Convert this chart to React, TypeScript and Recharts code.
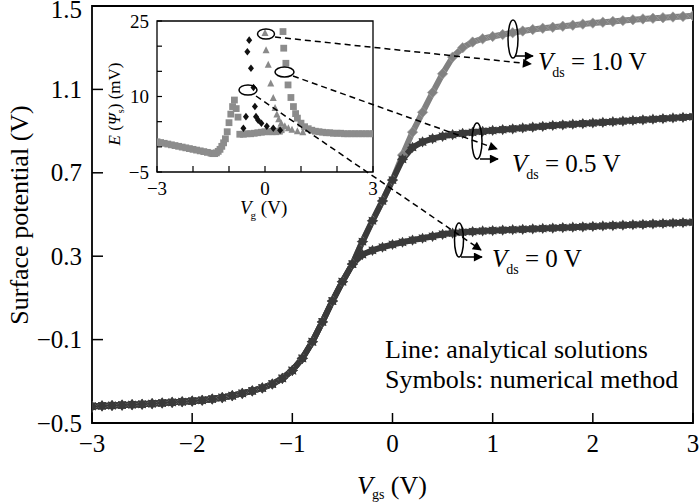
import React from 'react';
import { ComposedChart, ScatterChart, Line, Scatter, XAxis, YAxis, ReferenceArea } from 'recharts';

const FONT = '"Liberation Serif", "Times New Roman", serif';

// Main plot: gate voltage grid (V)
const vgs = [
  -3.0, -2.9, -2.8, -2.7, -2.6, -2.5, -2.4, -2.3, -2.2, -2.1,
  -2.0, -1.9, -1.8, -1.7, -1.6, -1.5, -1.4, -1.3, -1.2, -1.1,
  -1.0, -0.9, -0.8, -0.7, -0.6, -0.5, -0.4, -0.3, -0.2, -0.1,
  0.0, 0.1, 0.2, 0.3, 0.4, 0.5, 0.6, 0.7, 0.8, 0.9,
  1.0, 1.1, 1.2, 1.3, 1.4, 1.5, 1.6, 1.7, 1.8, 1.9,
  2.0, 2.1, 2.2, 2.3, 2.4, 2.5, 2.6, 2.7, 2.8, 2.9, 3.0,
];

// shared part of the three curves (-3.0 .. -0.4)
const psiCommon = [
  -0.420, -0.418, -0.416, -0.414, -0.412, -0.410, -0.407, -0.404, -0.401, -0.398,
  -0.395, -0.391, -0.385, -0.378, -0.369, -0.358, -0.346, -0.332, -0.313, -0.286,
  -0.248, -0.190, -0.110, -0.015, 0.085, 0.178, 0.262,
];

// -0.3 .. 3.0
const psiVds0 = [...psiCommon,
  0.308, 0.328, 0.343, 0.356, 0.367, 0.377, 0.386, 0.395, 0.405, 0.411,
  0.415, 0.418, 0.421, 0.423, 0.425, 0.427, 0.429, 0.431, 0.433, 0.435,
  0.437, 0.439, 0.441, 0.443, 0.445, 0.447, 0.449, 0.451, 0.453, 0.455,
  0.457, 0.459, 0.461, 0.463,
];
const psiVds05 = [...psiCommon,
  0.370, 0.470, 0.565, 0.665, 0.765, 0.822, 0.848, 0.864, 0.875, 0.883,
  0.889, 0.894, 0.899, 0.903, 0.907, 0.911, 0.915, 0.919, 0.923, 0.927,
  0.930, 0.933, 0.936, 0.939, 0.942, 0.945, 0.948, 0.951, 0.954, 0.957,
  0.960, 0.963, 0.966, 0.969,
];
const psiVds10 = [...psiCommon,
  0.370, 0.470, 0.565, 0.665, 0.785, 0.895, 0.990, 1.085, 1.175, 1.255,
  1.300, 1.327, 1.343, 1.354, 1.363, 1.372, 1.380, 1.387, 1.393, 1.398,
  1.403, 1.408, 1.413, 1.418, 1.422, 1.426, 1.430, 1.434, 1.438, 1.441,
  1.444, 1.447, 1.450, 1.453,
];

const mainXTicks = [-3, -2, -1, 0, 1, 2, 3];
const mainYTicks = [-0.5, -0.1, 0.3, 0.7, 1.1, 1.5];

// Inset: error E(psi_s) in mV
const sqVg = [
  -3.0, -2.9, -2.8, -2.7, -2.6, -2.5, -2.4, -2.3, -2.2, -2.1, -2.0, -1.9, -1.8, -1.7, -1.6, -1.5,
  -1.45, -1.4, -1.35, -1.3, -1.25, -1.2, -1.15, -1.1, -1.05, -1.0, -0.95, -0.9, -0.85, -0.8, -0.75,
  -0.7, -0.6, -0.5, -0.4, -0.3, -0.2, -0.1, 0.0, 0.1, 0.2, 0.3, 0.4, 0.45,
  0.5, 0.52, 0.58, 0.64, 0.72, 0.79, 0.85, 0.9,
  1.0, 1.1, 1.2, 1.3, 1.4, 1.5, 1.6, 1.7, 1.8, 1.9, 2.0, 2.1, 2.2, 2.3, 2.4, 2.5, 2.6, 2.7, 2.8, 2.9, 3.0,
];
const sqErr = [
  1.0, 0.85, 0.7, 0.55, 0.4, 0.25, 0.1, -0.05, -0.2, -0.35, -0.5, -0.65, -0.8, -0.95, -1.1, -1.25,
  -1.35, -1.35, -1.2, -0.9, -0.5, 0.1, 0.8, 1.6, 3.0, 4.8, 6.5, 8.0, 9.3, 7.6, 5.9,
  2.5, 2.5, 2.6, 2.6, 2.7, 2.8, 2.9, 3.0, 3.0, 3.0, 3.0, 3.1, 3.4,
  22.9, 19.6, 16.6, 12.3, 9.8, 8.0, 6.6, 5.7,
  4.7, 4.0, 3.6, 3.3, 3.1, 3.0, 2.9, 2.8, 2.8, 2.7, 2.7, 2.7, 2.6, 2.6, 2.6, 2.6, 2.6, 2.6, 2.6, 2.6, 2.6,
];
const triVg = [0.0, 0.03, 0.09, 0.16, 0.23, 0.28, 0.33, 0.38, 0.45, 0.55, 0.65, 0.75, 0.9, 1.05];
const triErr = [22.6, 19.2, 16.3, 12.6, 9.7, 7.7, 6.4, 5.5, 4.7, 4.1, 3.7, 3.4, 3.1, 2.9];
const diaVg = [-0.6, -0.53, -0.49, -0.44, -0.39, -0.32, -0.28, -0.25, -0.19, -0.1, 0.05, 0.23, 0.42];
const diaErr = [3.7, 6.0, 18.9, 21.2, 15.6, 11.8, 8.0, 6.0, 5.3, 4.7, 4.1, 3.7, 3.3];

const insetXTicks = [-3, -2, -1, 0, 1, 2, 3];
const insetYTicks = [-5, 0, 5, 10, 15, 20, 25];
const insetXLabels = [-3, 0, 3];
const insetYLabels = [-5, 10, 25];

const mainRows = vgs.map((x, i) => ({ x, v0: psiVds0[i], v05: psiVds05[i], v10: psiVds10[i] }));
const toPts = (xs: number[], es: number[]) => xs.map((x, i) => ({ x, e: es[i] }));

const DARK = '#3a3a3a';
const GREY = '#808080';

const minus = (s: string) => s.replace('-', '\u2212');

const starPts = (cx: number, cy: number) => {
  const pts: string[] = [];
  for (let k = 0; k < 16; k++) {
    const r = k % 2 === 0 ? 5.6 : 3.6;
    const a = (Math.PI * k) / 8;
    pts.push(`${cx + r * Math.cos(a)},${cy + r * Math.sin(a)}`);
  }
  return pts.join(' ');
};

const StarDot = (p: any) => {
  if (p.cx == null || p.cy == null) return <g key={p.index} />;
  return <polygon key={p.index} points={starPts(p.cx, p.cy)} fill={DARK} />;
};

const DiamondDot = (p: any) => {
  if (p.cx == null || p.cy == null) return <g key={p.index} />;
  const { cx, cy } = p;
  const r = 5.2;
  return (
    <polygon key={p.index} points={`${cx},${cy - r} ${cx + r},${cy} ${cx},${cy + r} ${cx - r},${cy}`}
      fill={GREY} stroke="#a0a0a0" strokeWidth={0.6} />
  );
};

const MainXTick = (p: any) => {
  const { x, y, payload } = p;
  return (
    <g>
      <line x1={x} x2={x} y1={y} y2={y - 10} stroke="#000" strokeWidth={1.5} />
      <text x={x} y={y + 29} textAnchor="middle" fontSize={25} fontFamily={FONT} fill="#000">
        {minus(String(payload.value))}
      </text>
    </g>
  );
};

const MainYTick = (p: any) => {
  const { x, y, payload } = p;
  // top label sits at the very edge of the page; keep it fully visible
  const dy = payload.value === 1.5 ? 11.5 : 8.5;
  return (
    <g>
      <line x1={x} x2={x + 11} y1={y} y2={y} stroke="#000" strokeWidth={1.5} />
      <text x={x - 10} y={y + dy} textAnchor="end" fontSize={25} fontFamily={FONT} fill="#000">
        {minus(payload.value.toFixed(1))}
      </text>
    </g>
  );
};

const InsetXTick = (p: any) => {
  const { x, y, payload } = p;
  return (
    <g>
      <line x1={x} x2={x} y1={y} y2={y - 6} stroke="#000" strokeWidth={1.2} />
      {insetXLabels.includes(payload.value) && (
        <text x={x} y={y + 23} textAnchor="middle" fontSize={19} fontFamily={FONT} fill="#000">
          {minus(String(payload.value))}
        </text>
      )}
    </g>
  );
};

const InsetYTick = (p: any) => {
  const { x, y, payload } = p;
  return (
    <g>
      <line x1={x} x2={x + 5} y1={y} y2={y} stroke="#000" strokeWidth={1.2} />
      {insetYLabels.includes(payload.value) && (
        <text x={x - 8} y={y + 6.5} textAnchor="end" fontSize={19} fontFamily={FONT} fill="#000">
          {minus(String(payload.value))}
        </text>
      )}
    </g>
  );
};

const sqShape = (p: any) => <rect x={p.cx - 3.4} y={p.cy - 3.4} width={6.8} height={6.8} fill="#8c8c8c" />;
const triShape = (p: any) => (
  <polygon points={`${p.cx},${p.cy - 4} ${p.cx + 3.5},${p.cy + 3} ${p.cx - 3.5},${p.cy + 3}`} fill="#8a8a8a" />
);
const diaShape = (p: any) => (
  <polygon points={`${p.cx},${p.cy - 3.8} ${p.cx + 3},${p.cy} ${p.cx},${p.cy + 3.8} ${p.cx - 3},${p.cy}`} fill="#111" />
);

function VdsLabel({ x, y, value }: { x: number; y: number; value: string }) {
  return (
    <text x={x} y={y} fontSize={25} fontFamily={FONT} fill="#000">
      <tspan fontStyle="italic">V</tspan>
      <tspan fontSize={14} dy={7} dx={-1}>ds</tspan>
      <tspan dy={-7}>{` = ${value} V`}</tspan>
    </text>
  );
}

function Annotations() {
  const dash = { stroke: '#000', strokeWidth: 1.5, strokeDasharray: '6 4', fill: 'none' };
  const solid = { stroke: '#000', strokeWidth: 1.5, fill: 'none' };
  return (
    <svg width={700} height={503} style={{ position: 'absolute', left: 0, top: 0, pointerEvents: 'none' }}>
      <defs>
        <marker id="ah" viewBox="0 0 10 10" refX="9" refY="5" markerWidth="11" markerHeight="9"
          orient="auto" markerUnits="userSpaceOnUse">
          <path d="M0,0 L10,5 L0,10 z" fill="#000" />
        </marker>
      </defs>
      {/* ellipses in the inset */}
      <ellipse cx={266} cy={34} rx={8.5} ry={5} style={solid} strokeWidth={1.2} />
      <ellipse cx={284.5} cy={72} rx={9.5} ry={5} style={solid} strokeWidth={1.2} />
      <ellipse cx={248} cy={90} rx={9} ry={5} style={solid} strokeWidth={1.2} />
      {/* dashed leaders */}
      <line x1={275} y1={37} x2={531} y2={64} style={dash} markerEnd="url(#ah)" />
      <line x1={293} y1={76} x2={497} y2={149} style={dash} markerEnd="url(#ah)" />
      <line x1={256} y1={96} x2={481} y2={250} style={dash} markerEnd="url(#ah)" />
      {/* ellipses on curves */}
      <ellipse cx={513} cy={39} rx={5} ry={19} style={solid} strokeWidth={1.2} />
      <ellipse cx={477} cy={141} rx={5} ry={18} style={solid} strokeWidth={1.2} />
      <ellipse cx={459} cy={240} rx={4.5} ry={17} style={solid} strokeWidth={1.2} />
      <line x1={515} y1={56} x2={533} y2={56} style={solid} markerEnd="url(#ah)" />
      <line x1={480} y1={159} x2={498} y2={159} style={solid} markerEnd="url(#ah)" />
      <line x1={461} y1={257} x2={482} y2={257} style={solid} markerEnd="url(#ah)" />
      <VdsLabel x={538} y={70} value="1.0" />
      <VdsLabel x={512} y={172} value="0.5" />
      <VdsLabel x={492} y={267} value="0" />
      {/* legend note */}
      <text x={385} y={358} fontSize={26} fontFamily={FONT} fill="#000">Line: analytical solutions</text>
      <text x={385} y={388} fontSize={26} fontFamily={FONT} fill="#000">Symbols: numerical method</text>
      {/* main axis titles */}
      <text x={357} y={494} fontSize={26} fontFamily={FONT} fill="#000">
        <tspan fontStyle="italic">V</tspan>
        <tspan fontSize={14} dy={5} dx={-1}>gs</tspan>
        <tspan dy={-5}> (V)</tspan>
      </text>
      <text x={0} y={0} transform="translate(28,215) rotate(-90)" textAnchor="middle" fontSize={26}
        fontFamily={FONT} fill="#000">Surface potential (V)</text>
      {/* inset axis titles */}
      <text x={240} y={214} fontSize={19} fontFamily={FONT} fill="#000">
        <tspan fontStyle="italic">V</tspan>
        <tspan fontSize={11} dy={5} dx={-1}>g</tspan>
        <tspan dy={-5}> (V)</tspan>
      </text>
      <text x={0} y={0} transform="translate(120,104) rotate(-90)" textAnchor="middle" fontSize={17}
        fontFamily={FONT} fill="#000">
        <tspan fontStyle="italic">E</tspan>
        <tspan> (</tspan>
        <tspan fontStyle="italic">Ψ</tspan>
        <tspan fontSize={10} dy={4}>s</tspan>
        <tspan dy={-4}>) (mV)</tspan>
      </text>
    </svg>
  );
}

export default function App() {
  return (
    <div style={{ position: 'absolute', left: 0, top: 0, width: 700, height: 503, background: '#fff' }}>
      <ComposedChart width={700} height={503} data={mainRows} margin={{ top: 6, right: 7, bottom: 0, left: 0 }}>
        <XAxis type="number" dataKey="x" domain={[-3, 3]} ticks={mainXTicks} interval={0} height={80}
          tickSize={0} tickMargin={0} axisLine={false} tickLine={false} tick={MainXTick} allowDataOverflow />
        <YAxis type="number" domain={[-0.5, 1.5]} ticks={mainYTicks} interval={0} width={92}
          tickSize={0} tickMargin={0} axisLine={false} tickLine={false} tick={MainYTick} allowDataOverflow />
        <ReferenceArea x1={-3} x2={3} y1={-0.5} y2={1.5} fill="none" stroke="#000" strokeWidth={1.8} />
        <Line type="linear" dataKey="v10" stroke={GREY} strokeWidth={6} dot={DiamondDot} activeDot={false}
          isAnimationActive={false} />
        <Line type="linear" dataKey="v05" stroke={DARK} strokeWidth={6} dot={StarDot} activeDot={false}
          isAnimationActive={false} />
        <Line type="linear" dataKey="v0" stroke={DARK} strokeWidth={6} dot={StarDot} activeDot={false}
          isAnimationActive={false} />
      </ComposedChart>

      <div style={{ position: 'absolute', left: 95, top: 8, width: 290, height: 215 }}>
        <div style={{ position: 'absolute', left: 62, top: 13, width: 216, height: 151, background: '#fff' }} />
        <div style={{ position: 'absolute', left: 0, top: 0 }}>
          <ScatterChart width={290} height={215} margin={{ top: 13, right: 12, bottom: 0, left: 0 }}>
            <XAxis type="number" dataKey="x" domain={[-3, 3]} ticks={insetXTicks} interval={0} height={51}
              tickSize={0} tickMargin={0} axisLine={false} tickLine={false} tick={InsetXTick} allowDataOverflow />
            <YAxis type="number" dataKey="e" domain={[-5, 25]} ticks={insetYTicks} interval={0} width={62}
              tickSize={0} tickMargin={0} axisLine={false} tickLine={false} tick={InsetYTick} allowDataOverflow />
            <ReferenceArea x1={-3} x2={3} y1={-5} y2={25} fill="none" stroke="#000" strokeWidth={1.3} />
            <Scatter data={toPts(sqVg, sqErr)} shape={sqShape} isAnimationActive={false} />
            <Scatter data={toPts(triVg, triErr)} shape={triShape} isAnimationActive={false} />
            <Scatter data={toPts(diaVg, diaErr)} shape={diaShape} isAnimationActive={false} />
          </ScatterChart>
        </div>
      </div>

      <Annotations />
    </div>
  );
}
